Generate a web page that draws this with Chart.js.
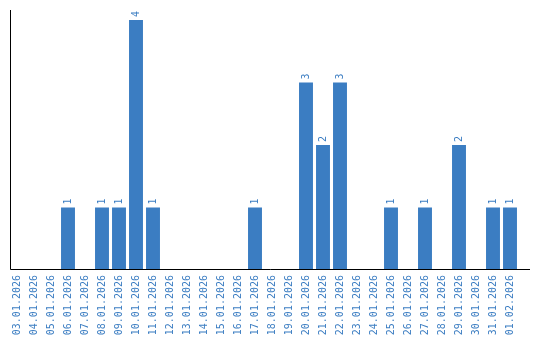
<!DOCTYPE html>
<html>
<head>
<meta charset="utf-8">
<script src="https://cdn.jsdelivr.net/npm/chart.js@4"></script>
<style>
  html, body { margin: 0; padding: 0; background: #fff; }
  #wrap { width: 540px; height: 340px; }
</style>
</head>
<body>
<div id="wrap"><canvas id="chart" width="540" height="340"></canvas></div>
<script>
/* ── Data ── */
const days = [
    '03.01.2026', '04.01.2026', '05.01.2026', '06.01.2026', '07.01.2026',
    '08.01.2026', '09.01.2026', '10.01.2026', '11.01.2026', '12.01.2026',
    '13.01.2026', '14.01.2026', '15.01.2026', '16.01.2026', '17.01.2026',
    '18.01.2026', '19.01.2026', '20.01.2026', '21.01.2026', '22.01.2026',
    '23.01.2026', '24.01.2026', '25.01.2026', '26.01.2026', '27.01.2026',
    '28.01.2026', '29.01.2026', '30.01.2026', '31.01.2026', '01.02.2026'
];
const counts = [
    0, 0, 0, 1, 0,
    1, 1, 4, 1, 0,
    0, 0, 0, 0, 1,
    0, 0, 3, 2, 3,
    0, 0, 1, 0, 1,
    0, 2, 0, 1, 1
];

const blue = '#3b7dc2';
const labelFont = '10px "DejaVu Sans Mono", monospace';

/* ── Plugin: value labels above bars, rotated ── */
const barValues = {
    id: 'barValues',
    afterDatasetsDraw(chart) {
        const { ctx } = chart;
        const meta = chart.getDatasetMeta(0);
        ctx.save();
        ctx.fillStyle = blue;
        ctx.font = labelFont;
        ctx.textAlign = 'left';
        ctx.textBaseline = 'middle';
        meta.data.forEach((bar, i) => {
            const v = counts[i];
            if (!v) return;
            ctx.save();
            ctx.translate(bar.x, bar.y - 3);
            ctx.rotate(-Math.PI / 2);
            ctx.fillText(String(v), 0, 0);
            ctx.restore();
        });
        ctx.restore();
    }
};

/* ── Plugin: axis lines (the x line runs a bit past the last bar) ── */
const axisLines = {
    id: 'axisLines',
    afterDatasetsDraw(chart) {
        const { ctx, chartArea } = chart;
        const x0 = Math.round(chartArea.left) + 1.5;
        const y0 = Math.round(chartArea.bottom) - 0.5;
        ctx.save();
        ctx.strokeStyle = '#000';
        ctx.lineWidth = 1;
        ctx.beginPath();
        ctx.moveTo(x0, chartArea.top);
        ctx.lineTo(x0, y0);
        ctx.lineTo(chartArea.right + 11.5, y0);
        ctx.stroke();
        ctx.restore();
    }
};

new Chart(document.getElementById('chart').getContext('2d'), {
    type: 'bar',
    data: {
        labels: days,
        datasets: [{
            data: counts,
            backgroundColor: blue,
            borderWidth: 0,
            barPercentage: 0.82,
            categoryPercentage: 1
        }]
    },
    options: {
        responsive: false,
        animation: false,
        layout: { padding: { left: 8.5, top: 10, right: 21.5, bottom: 0 } },
        scales: {
            x: {
                grid: { display: false, drawTicks: false },
                border: { display: false },
                ticks: {
                    color: blue,
                    font: { family: '"DejaVu Sans Mono", monospace', size: 10 },
                    autoSkip: false,
                    minRotation: 90,
                    maxRotation: 90,
                    padding: 5
                },
                afterFit(scale) { scale.height = 70; }
            },
            y: {
                min: 0,
                max: 4.16,
                grid: { display: false },
                border: { display: false },
                ticks: { display: false },
                afterFit(scale) { scale.width = 0; }
            }
        },
        plugins: {
            legend: { display: false },
            tooltip: { enabled: false }
        }
    },
    plugins: [barValues, axisLines]
});
</script>
</body>
</html>
